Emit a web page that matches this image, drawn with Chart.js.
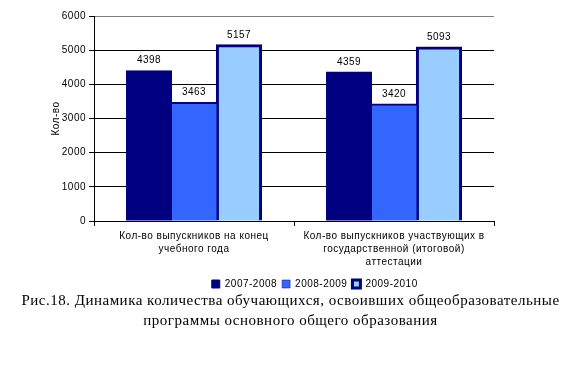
<!DOCTYPE html>
<html>
<head>
<meta charset="utf-8">
<script src="https://cdn.jsdelivr.net/npm/chart.js@4.4.0/dist/chart.umd.min.js"></script>
<style>
  body { margin: 0; background: #fff; }
  #wrap { position: relative; width: 581px; height: 375px; }
  #chart { position: absolute; left: 0; top: 0; }
  #caption {
    position: absolute; left: 0; top: 290px; width: 581px;
    text-align: center; color: #000;
    font-family: "Liberation Serif", "Times New Roman", serif;
    font-size: 15px; line-height: 20px; letter-spacing: 0.5px;
  }
</style>
</head>
<body>
<div id="wrap">
  <canvas id="chart" width="581" height="310"></canvas>
  <div id="caption">Рис.18. Динамика количества обучающихся, освоивших общеобразовательные<br>программы основного общего образования</div>
</div>
<script>
const categories = [
  ["Кол-во выпускников на конец", "учебного года"],
  ["Кол-во выпускников участвующих в", "государственной (итоговой)", "аттестации"]
];
const seriesNames = ["2007-2008", "2008-2009", "2009-2010"];
const values2007 = [4398, 4359];
const values2008 = [3463, 3420];
const values2009 = [5157, 5093];
const yTicks = [0, 1000, 2000, 3000, 4000, 5000, 6000];

const FONT = '"Liberation Sans", Arial, sans-serif';

// the original text is spaced out a little
const spacing = {
  id: 'spacing',
  beforeDraw(chart) {
    chart.ctx.letterSpacing = '0.5px';
  }
};

// numbers above the bars
const valueLabels = {
  id: 'valueLabels',
  afterDatasetsDraw(chart) {
    const ctx = chart.ctx;
    ctx.save();
    ctx.font = '10px ' + FONT;
    ctx.fillStyle = '#000';
    ctx.textAlign = 'center';
    ctx.textBaseline = 'middle';
    chart.data.datasets.forEach((ds, i) => {
      chart.getDatasetMeta(i).data.forEach((bar, j) => {
        ctx.fillText(ds.data[j], bar.x, bar.y - 10);
      });
    });
    ctx.restore();
  }
};

// legend sits a bit right of the plot centre in the original
const legendShift = {
  id: 'legendShift',
  afterLayout(chart) {
    chart.legend.left += 14;
    chart.legend.right += 14;
  }
};

new Chart(document.getElementById('chart'), {
  type: 'bar',
  data: {
    labels: categories,
    datasets: [
      { label: seriesNames[0], data: values2007, backgroundColor: '#000080', borderColor: '#000080', borderWidth: 1 },
      { label: seriesNames[1], data: values2008, backgroundColor: '#3366FF', borderColor: '#000080', borderWidth: { top: 2, right: 0, bottom: 0, left: 0 } },
      { label: seriesNames[2], data: values2009, backgroundColor: '#99CCFF', borderColor: '#000080', borderWidth: 3 }
    ]
  },
  options: {
    responsive: false,
    animation: false,
    layout: { padding: { left: 0, right: 87, top: 16, bottom: 11 } },
    datasets: { bar: { categoryPercentage: 0.675, barPercentage: 1.0, inflateAmount: 0.6 } },
    plugins: {
      legend: {
        position: 'bottom',
        fullSize: false,
        labels: {
          boxWidth: 8,
          boxHeight: 8,
          padding: 5,
          color: '#000',
          font: { family: FONT, size: 10 }
        }
      },
      tooltip: { enabled: false }
    },
    scales: {
      x: {
        afterFit: (scale) => { scale.height = 53; },
        grid: {
          offset: true,
          drawOnChartArea: true,
          color: (c) => c.index === 2 ? '#808080' : 'rgba(0,0,0,0)',
          tickColor: '#000',
          tickLength: 5
        },
        border: { color: '#000' },
        ticks: {
          color: '#000',
          padding: 4,
          maxRotation: 0,
          font: { family: FONT, size: 10, lineHeight: 1.3 }
        }
      },
      y: {
        min: 0,
        max: 6000,
        afterFit: (scale) => { scale.width = 94; },
        afterBuildTicks: (scale) => { scale.ticks = yTicks.map(v => ({ value: v })); },
        grid: {
          color: (c) => c.tick && c.tick.value === 6000 ? '#808080' : '#000',
          tickColor: '#000',
          tickLength: 5
        },
        border: { color: '#000' },
        ticks: {
          color: '#000',
          padding: 3,
          callback: (v) => String(v),
          font: { family: FONT, size: 10 }
        },
        title: {
          display: true,
          text: 'Кол-во',
          color: '#000',
          padding: { top: 50, bottom: 0 },
          font: { family: FONT, size: 10 }
        }
      }
    }
  },
  plugins: [spacing, valueLabels, legendShift]
});
</script>
</body>
</html>
